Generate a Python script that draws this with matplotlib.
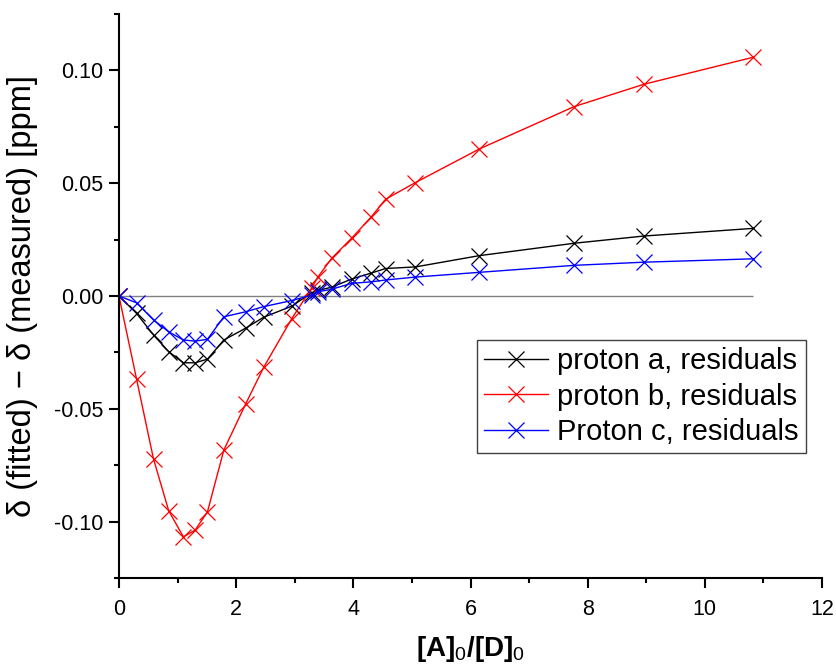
import numpy as np
import matplotlib.pyplot as plt
from matplotlib.ticker import MultipleLocator, FormatStrFormatter

plt.rcParams['font.family'] = ['Liberation Sans', 'DejaVu Sans']
plt.rcParams['mathtext.fontset'] = 'custom'
plt.rcParams['mathtext.rm'] = 'Liberation Sans'
plt.rcParams['mathtext.bf'] = 'Liberation Sans:bold'

# titration ratio [A]0/[D]0
ratio = [0, 0.30, 0.59, 0.85, 1.10, 1.30, 1.51, 1.79, 2.16, 2.47, 2.95,
         3.29, 3.40, 3.63, 3.97, 4.31, 4.55, 5.06, 6.15, 7.77, 8.96, 10.83]

# residuals, ppm
res_a = [0, -0.0077, -0.0173, -0.0247, -0.0296, -0.0296, -0.0280, -0.0195,
         -0.0143, -0.0094, -0.0045, 0.0015, 0.0025, 0.0039, 0.0075, 0.0102,
         0.0122, 0.0129, 0.0179, 0.0234, 0.0266, 0.0300]
res_b = [0, -0.0368, -0.0723, -0.0953, -0.1068, -0.1038, -0.0957, -0.0683,
         -0.0480, -0.0316, -0.0100, 0.0036, 0.0086, 0.0167, 0.0256, 0.0352,
         0.0429, 0.0503, 0.0652, 0.0840, 0.0939, 0.1059]
res_c = [0, -0.0030, -0.0106, -0.0159, -0.0195, -0.0200, -0.0192, -0.0092,
         -0.0070, -0.0047, -0.0020, 0.0004, 0.0019, 0.0030, 0.0056, 0.0063,
         0.0071, 0.0084, 0.0105, 0.0136, 0.0150, 0.0165]

labels = ['proton a, residuals', 'proton b, residuals', 'Proton c, residuals']
colors = ['black', '#ff0000', '#0000ff']

fig = plt.figure(figsize=(8.36, 6.72), dpi=100)
ax = fig.add_axes([0.1423, 0.140, 0.8410, 0.839])

ax.hlines(0, ratio[0], ratio[-1], color='#808080', lw=1.0, zorder=1)

for ys, lab, c in zip([res_a, res_b, res_c], labels, colors):
    ax.plot(ratio, ys, color=c, lw=1.0, marker='x', markersize=11,
            markeredgewidth=0.9, label=lab, zorder=2)

ax.set_xlim(0, 12)
ax.set_ylim(-0.125, 0.125)
ax.xaxis.set_major_locator(MultipleLocator(2))
ax.xaxis.set_minor_locator(MultipleLocator(1))
ax.yaxis.set_major_locator(MultipleLocator(0.05))
ax.yaxis.set_minor_locator(MultipleLocator(0.025))
ax.yaxis.set_major_formatter(FormatStrFormatter('%.2f'))

ax.spines['top'].set_visible(False)
ax.spines['right'].set_visible(False)
for s in ['left', 'bottom']:
    ax.spines[s].set_linewidth(1.5)
ax.tick_params(which='major', direction='out', length=7, width=1.5,
               labelsize=15.5)
ax.tick_params(axis='x', which='major', pad=8)
ax.tick_params(axis='y', which='major', pad=4)
ax.tick_params(which='minor', direction='out', length=3.5, width=1.5)

ax.set_ylabel('δ (fitted) − δ (measured) [ppm]', fontsize=23.5, labelpad=12)
ax.set_xlabel(r'$\mathbf{[A]}_0\mathbf{/[D]}_0$', fontsize=20, labelpad=10)

leg = ax.legend(loc='upper right', bbox_to_anchor=(0.977, 0.422),
                fontsize=21, fancybox=False, framealpha=1,
                edgecolor='#404040', handlelength=2.2, borderpad=0.25,
                labelspacing=0.25, handletextpad=0.3, borderaxespad=0)
leg.get_frame().set_linewidth(1.0)

fig.savefig('out.png', dpi=100)
